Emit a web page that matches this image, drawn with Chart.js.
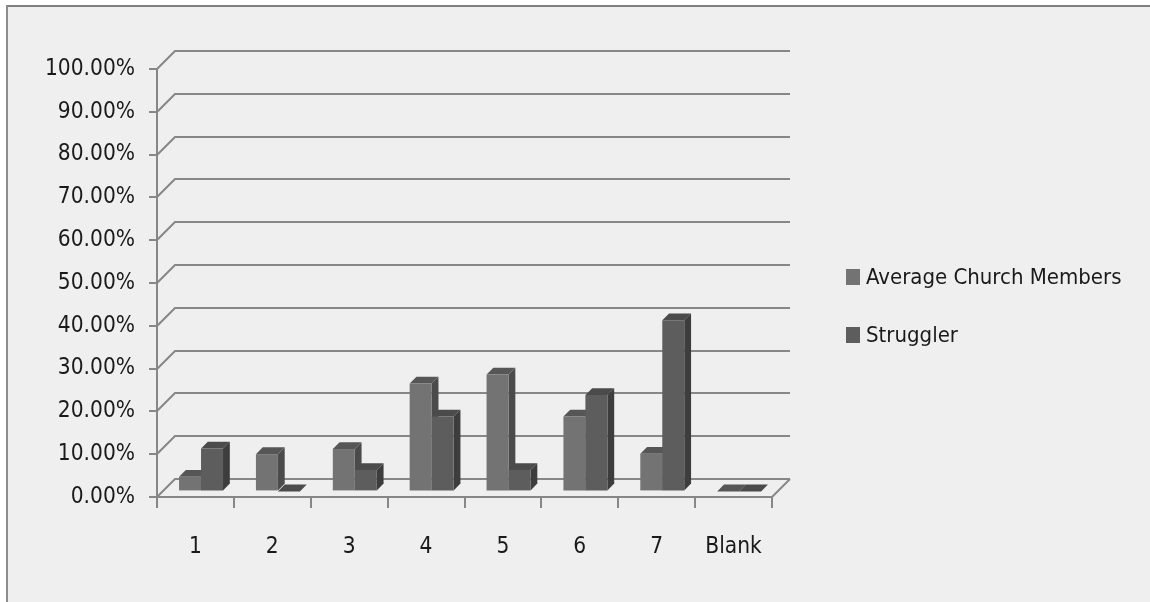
<!DOCTYPE html>
<html>
<head>
<meta charset="utf-8">
<script src="https://cdn.jsdelivr.net/npm/chart.js@4.4.1/dist/chart.umd.min.js"></script>
<style>
  html, body { margin: 0; padding: 0; background: #ffffff; }
  canvas { display: block; }
</style>
</head>
<body>
<canvas id="chart" width="1150" height="602"></canvas>
<script>
// Survey answers by rating, share of each group
const categories = ['1', '2', '3', '4', '5', '6', '7', 'Blank'];
const averageChurchMembers = [3.4, 8.7, 9.9, 25.2, 27.3, 17.5, 8.8, 0];
const struggler = [10.0, 0, 5.0, 17.5, 5.0, 22.5, 40.0, 0];
const seriesNames = ['Average Church Members', 'Struggler'];
const yTickValues = [0, 10, 20, 30, 40, 50, 60, 70, 80, 90, 100];

// Look of the pseudo-3D column chart
const FONT = '"DejaVu Sans Condensed", "Liberation Sans", sans-serif';
const TEXT = '#1a1a1a';
const LINE = '#878787';
const WALL_DEPTH = 18;   // depth of the floor / side wall
const BAR_SHIFT = 5.6;   // columns sit this far back from the front edge
const BAR_DEPTH = 6.8;   // depth of a single column
const faces = [
  { front: '#737373', top: '#565656', side: '#4b4b4b' },
  { front: '#5d5d5d', top: '#4b4b4b', side: '#3d3d3d' }
];

function poly(ctx, pts, fill) {
  ctx.beginPath();
  ctx.moveTo(pts[0][0], pts[0][1]);
  for (let i = 1; i < pts.length; i++) ctx.lineTo(pts[i][0], pts[i][1]);
  ctx.closePath();
  ctx.fillStyle = fill;
  ctx.fill();
}

const pseudo3d = {
  id: 'pseudo3d',
  beforeDraw(chart) {
    const { ctx, width, height } = chart;
    ctx.save();
    ctx.fillStyle = '#ffffff';
    ctx.fillRect(0, 0, width, height);
    ctx.fillStyle = '#efefef';
    ctx.fillRect(6, 5, width - 6, height - 5);
    ctx.fillStyle = '#808080';
    ctx.fillRect(6, 5, width - 6, 2);
    ctx.fillStyle = '#8c8c8c';
    ctx.fillRect(6, 5, 2, height - 5);
    ctx.restore();
  },
  beforeDatasetsDraw(chart) {
    const { ctx, chartArea: a, scales: { y } } = chart;
    // back wall gridlines with their slanted side-wall part
    ctx.save();
    ctx.strokeStyle = LINE;
    ctx.lineWidth = 2;
    y.ticks.forEach(t => {
      const py = Math.round(y.getPixelForValue(t.value));
      ctx.beginPath();
      ctx.moveTo(a.left, py);
      ctx.lineTo(a.left + WALL_DEPTH, py - WALL_DEPTH);
      ctx.lineTo(a.right + WALL_DEPTH, py - WALL_DEPTH);
      ctx.stroke();
    });
    const base = Math.round(y.getPixelForValue(0));
    ctx.beginPath();
    ctx.moveTo(a.right + WALL_DEPTH, base - WALL_DEPTH);
    ctx.lineTo(a.right, base);
    ctx.stroke();
    ctx.restore();

    // columns are drawn a little behind the front plane
    ctx.save();
    ctx.translate(BAR_SHIFT, -BAR_SHIFT);
    // side and top faces first; the library then paints the front faces over them
    chart.data.datasets.forEach((ds, di) => {
      const meta = chart.getDatasetMeta(di);
      if (meta.hidden) return;
      const f = faces[di];
      meta.data.forEach(el => {
        const { x, y: top, base: b, width: w } = el.getProps(['x', 'y', 'base', 'width'], true);
        const l = x - w / 2, r = x + w / 2;
        const t = Math.min(top, b), bt = Math.max(top, b);
        const d = BAR_DEPTH;
        poly(ctx, [[r, t], [r + d, t - d], [r + d, bt - d], [r, bt]], f.side);
        poly(ctx, [[l, t], [r, t], [r + d, t - d], [l + d, t - d]], f.top);
      });
    });
  },
  afterDatasetsDraw(chart) {
    chart.ctx.restore();
  },
  afterDraw(chart) {
    // legend
    const { ctx } = chart;
    ctx.save();
    ctx.font = '22px ' + FONT;
    ctx.textBaseline = 'middle';
    ctx.textAlign = 'left';
    chart.data.datasets.forEach((ds, i) => {
      const cy = 277 + i * 58;
      ctx.fillStyle = ds.backgroundColor;
      ctx.fillRect(846, cy - 8, 14, 16);
      ctx.fillStyle = TEXT;
      ctx.fillText(ds.label, 866, cy + 1);
    });
    ctx.restore();
  }
};

new Chart(document.getElementById('chart'), {
  type: 'bar',
  data: {
    labels: categories,
    datasets: [
      { label: seriesNames[0], data: averageChurchMembers, backgroundColor: faces[0].front },
      { label: seriesNames[1], data: struggler, backgroundColor: faces[1].front }
    ]
  },
  options: {
    responsive: false,
    devicePixelRatio: 1,
    animation: false,
    events: [],
    layout: { padding: { top: 69, right: 378, bottom: 0, left: 0 } },
    datasets: {
      bar: { categoryPercentage: 0.572, barPercentage: 1, borderWidth: 0, clip: false }
    },
    plugins: { legend: { display: false }, tooltip: { enabled: false } },
    scales: {
      x: {
        offset: true,
        grid: { drawOnChartArea: false, drawTicks: true, tickLength: 11, offset: true, color: LINE, lineWidth: 2 },
        border: { display: true, color: LINE, width: 2 },
        ticks: { color: TEXT, padding: 26, font: { family: FONT, size: 22.5 }, maxRotation: 0 },
        afterFit(s) { s.height = 105; }
      },
      y: {
        min: 0,
        max: 100,
        afterBuildTicks(s) { s.ticks = yTickValues.map(v => ({ value: v })); },
        grid: { drawOnChartArea: false, drawTicks: true, tickLength: 8, color: LINE, lineWidth: 2 },
        border: { display: true, color: LINE, width: 2 },
        ticks: {
          color: TEXT,
          padding: 14,
          font: { family: FONT, size: 22.5 },
          callback: v => v.toFixed(2) + '%'
        },
        afterFit(s) { s.width = 157; }
      }
    }
  },
  plugins: [pseudo3d]
});
</script>
</body>
</html>
